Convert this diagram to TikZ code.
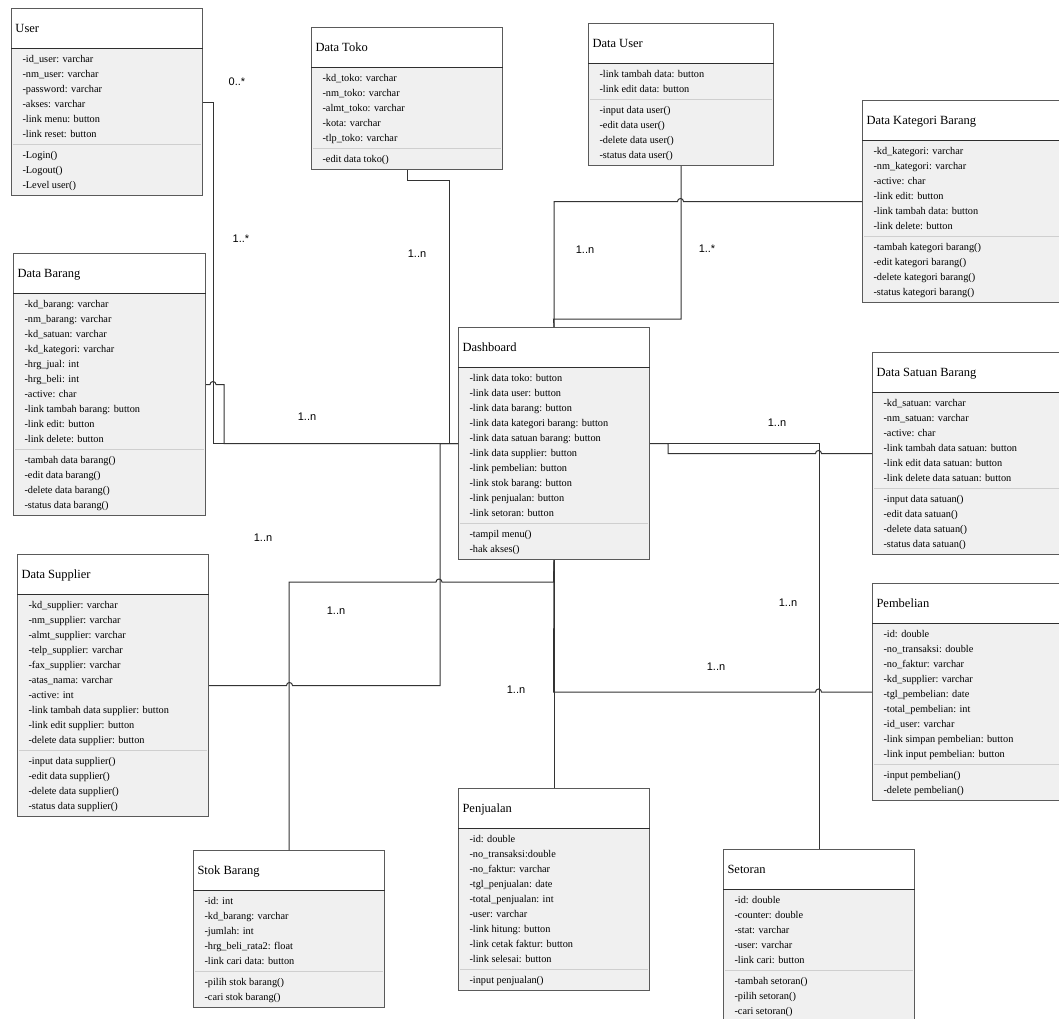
\documentclass[tikz,border=0pt]{standalone}
\usepackage{fontspec}
\setmainfont{Liberation Serif}
\newfontfamily\lblfont{Liberation Sans}
\usetikzlibrary{shapes.multipart}
\definecolor{boxfill}{HTML}{F0F0F0}
\definecolor{boxline}{HTML}{5A5A5A}
\definecolor{hdrcol}{HTML}{2E2E2E}
\definecolor{sepcol}{HTML}{CFCFCF}
\definecolor{conncol}{HTML}{333333}
\newcommand\clsTitle[2]{\vbox{\offinterlineskip\hrule height0pt width #1pt\hbox{\kern4pt\fontsize{12.5}{15}\selectfont\vrule width0pt height21.1pt depth12.9pt\relax #2}}}
\newcommand\clsRows[2]{\vbox{\offinterlineskip\hrule height0pt width #1pt #2}}
\newcommand\clsRow[1]{\hbox{\kern11pt\vrule width0pt height11pt depth4pt\relax #1}}
\tikzset{
  umlbox/.style={rectangle split, rectangle split parts=3,
    rectangle split draw splits=false,
    rectangle split part fill={white,boxfill,boxfill},
    draw=boxline, line width=1pt, inner xsep=0pt, inner ysep=2.5pt,
    font=\fontsize{10.3}{15}\selectfont},
  hdrline/.style={draw=hdrcol, line width=1pt},
  seprule/.style={draw=sepcol, line width=0.9pt},
  conn/.style={draw=conncol, line width=1pt},
  mult/.style={font=\lblfont\fontsize{11}{13}\selectfont, inner sep=0pt}
}
\newcommand\umlclass[7]{%
  \node[umlbox, anchor=north west] (#1) at (#2,#3) {\clsTitle{#4}{#5}\nodepart{two}\clsRows{#4}{#6}\nodepart{three}\clsRows{#4}{#7}};
  \draw[hdrline] (#1.text split west) -- (#1.text split east);
  \draw[seprule] ([xshift=2pt]#1.two split west) -- ([xshift=-2pt]#1.two split east);
}
\begin{document}
\begin{tikzpicture}[x=1pt,y=-1pt]
\path[use as bounding box] (0,0) rectangle (1059,1018);
\clip (0,0) rectangle (1059,1018);
\fill[white] (0,0) rectangle (1059,1018);

% ---------- classes ----------
\umlclass{user}{11}{8}{191}{User}{%
  \clsRow{-id\_user: varchar}\clsRow{-nm\_user: varchar}\clsRow{-password: varchar}%
  \clsRow{-akses: varchar}\clsRow{-link menu: button}\clsRow{-link reset: button}}{%
  \clsRow{-Login()}\clsRow{-Logout()}\clsRow{-Level user()}}

\umlclass{toko}{311}{27}{191}{Data Toko}{%
  \clsRow{-kd\_toko: varchar}\clsRow{-nm\_toko: varchar}\clsRow{-almt\_toko: varchar}%
  \clsRow{-kota: varchar}\clsRow{-tlp\_toko: varchar}}{%
  \clsRow{-edit data toko()}}

\umlclass{duser}{588}{23}{185}{Data User}{%
  \clsRow{-link tambah data: button}\clsRow{-link edit data: button}}{%
  \clsRow{-input data user()}\clsRow{-edit data user()}\clsRow{-delete data user()}\clsRow{-status data user()}}

\umlclass{kat}{862}{100}{210}{Data Kategori Barang}{%
  \clsRow{-kd\_kategori: varchar}\clsRow{-nm\_kategori: varchar}\clsRow{-active: char}%
  \clsRow{-link edit: button}\clsRow{-link tambah data: button}\clsRow{-link delete: button}}{%
  \clsRow{-tambah kategori barang()}\clsRow{-edit kategori barang()}\clsRow{-delete kategori barang()}\clsRow{-status kategori barang()}}

\umlclass{barang}{13}{253}{192}{Data Barang}{%
  \clsRow{-kd\_barang: varchar}\clsRow{-nm\_barang: varchar}\clsRow{-kd\_satuan: varchar}%
  \clsRow{-kd\_kategori: varchar}\clsRow{-hrg\_jual: int}\clsRow{-hrg\_beli: int}%
  \clsRow{-active: char}\clsRow{-link tambah barang: button}\clsRow{-link edit: button}\clsRow{-link delete: button}}{%
  \clsRow{-tambah data barang()}\clsRow{-edit data barang()}\clsRow{-delete data barang()}\clsRow{-status data barang()}}

\umlclass{dash}{458}{327}{191}{Dashboard}{%
  \clsRow{-link data toko: button}\clsRow{-link data user: button}\clsRow{-link data barang: button}%
  \clsRow{-link data kategori barang: button}\clsRow{-link data satuan barang: button}%
  \clsRow{-link data supplier: button}\clsRow{-link pembelian: button}\clsRow{-link stok barang: button}%
  \clsRow{-link penjualan: button}\clsRow{-link setoran: button}}{%
  \clsRow{-tampil menu()}\clsRow{-hak akses()}}

\umlclass{satuan}{872}{352}{200}{Data Satuan Barang}{%
  \clsRow{-kd\_satuan: varchar}\clsRow{-nm\_satuan: varchar}\clsRow{-active: char}%
  \clsRow{-link tambah data satuan: button}\clsRow{-link edit data satuan: button}\clsRow{-link delete data satuan: button}}{%
  \clsRow{-input data satuan()}\clsRow{-edit data satuan()}\clsRow{-delete data satuan()}\clsRow{-status data satuan()}}

\umlclass{pemb}{872}{583}{200}{Pembelian}{%
  \clsRow{-id: double}\clsRow{-no\_transaksi: double}\clsRow{-no\_faktur: varchar}%
  \clsRow{-kd\_supplier: varchar}\clsRow{-tgl\_pembelian: date}\clsRow{-total\_pembelian: int}%
  \clsRow{-id\_user: varchar}\clsRow{-link simpan pembelian: button}\clsRow{-link input pembelian: button}}{%
  \clsRow{-input pembelian()}\clsRow{-delete pembelian()}}

\umlclass{supp}{17}{554}{191}{Data Supplier}{%
  \clsRow{-kd\_supplier: varchar}\clsRow{-nm\_supplier: varchar}\clsRow{-almt\_supplier: varchar}%
  \clsRow{-telp\_supplier: varchar}\clsRow{-fax\_supplier: varchar}\clsRow{-atas\_nama: varchar}%
  \clsRow{-active: int}\clsRow{-link tambah data supplier: button}\clsRow{-link edit supplier: button}\clsRow{-delete data supplier: button}}{%
  \clsRow{-input data supplier()}\clsRow{-edit data supplier()}\clsRow{-delete data supplier()}\clsRow{-status data supplier()}}

\umlclass{stok}{193}{850}{191}{Stok Barang}{%
  \clsRow{-id: int}\clsRow{-kd\_barang: varchar}\clsRow{-jumlah: int}%
  \clsRow{-hrg\_beli\_rata2: float}\clsRow{-link cari data: button}}{%
  \clsRow{-pilih stok barang()}\clsRow{-cari stok barang()}}

\umlclass{penj}{458}{788}{191}{Penjualan}{%
  \clsRow{-id: double}\clsRow{-no\_transaksi:double}\clsRow{-no\_faktur: varchar}%
  \clsRow{-tgl\_penjualan: date}\clsRow{-total\_penjualan: int}\clsRow{-user: varchar}%
  \clsRow{-link hitung: button}\clsRow{-link cetak faktur: button}\clsRow{-link selesai: button}}{%
  \clsRow{-input penjualan()}}

\umlclass{setor}{723}{849}{191}{Setoran}{%
  \clsRow{-id: double}\clsRow{-counter: double}\clsRow{-stat: varchar}%
  \clsRow{-user: varchar}\clsRow{-link cari: button}}{%
  \clsRow{-tambah setoran()}\clsRow{-pilih setoran()}\clsRow{-cari setoran()}}

% ---------- connectors ----------
\draw[conn] (user.east) -- ++(10,0) |- (dash.west);
\draw[conn] (barang.east) -- ++(4,0) arc[start angle=180,end angle=0,radius=3pt] -- ++(8,0) |- (dash.west);
\draw[conn] (toko.south) |- (449,180) |- (dash.west);
\draw[conn] (supp.east) -- ++(77.5,0) arc[start angle=180,end angle=0,radius=3pt] -- ++(147.5,0) |- (dash.west);
\draw[conn] (stok.north) |- (436,582) arc[start angle=180,end angle=0,radius=3pt] -- (553.5,582) -- (dash.south);
\draw[conn] (penj.north) -- (dash.south);
\draw[conn] (pemb.west) -- ++(-50.5,0) arc[start angle=0,end angle=180,radius=3pt] -- ++(-262,0) -- (dash.south);
\draw[conn] (setor.north) |- (dash.east);
\draw[conn] (satuan.west) -- ++(-50.5,0) arc[start angle=0,end angle=180,radius=3pt] -- ++(-147.5,0) |- (dash.east);
\draw[conn] (duser.south) |- (553.5,319) -- (dash.north);
\draw[conn] (kat.west) -- ++(-178.5,0) arc[start angle=0,end angle=180,radius=3pt] -| (dash.north);

% ---------- multiplicities ----------
\node[mult] (m1) at (237,82) {0..*};
\node[mult] (m2) at (241,239) {1..*};
\node[mult] (m3) at (417,254) {1..n};
\node[mult] (m4) at (307,417) {1..n};
\node[mult] (m5) at (263,538) {1..n};
\node[mult] (m6) at (336,611) {1..n};
\node[mult] (m7) at (585,250) {1..n};
\node[mult] (m8) at (707,249) {1..*};
\node[mult] (m9) at (777,423) {1..n};
\node[mult] (m10) at (788,603) {1..n};
\node[mult] (m11) at (716,667) {1..n};
\node[mult] (m12) at (516,690) {1..n};
\end{tikzpicture}
\end{document}
